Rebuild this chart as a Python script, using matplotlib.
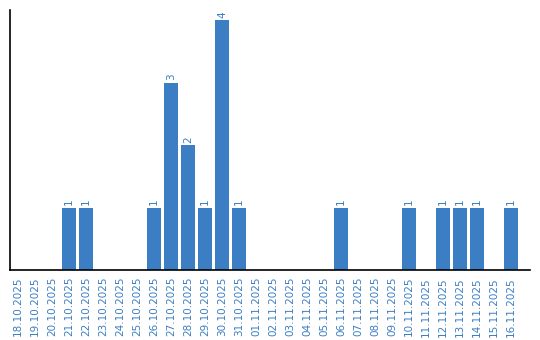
import matplotlib
matplotlib.use("Agg")
import matplotlib.pyplot as plt

dates = ["18.10.2025", "19.10.2025", "20.10.2025", "21.10.2025", "22.10.2025",
         "23.10.2025", "24.10.2025", "25.10.2025", "26.10.2025", "27.10.2025",
         "28.10.2025", "29.10.2025", "30.10.2025", "31.10.2025", "01.11.2025",
         "02.11.2025", "03.11.2025", "04.11.2025", "05.11.2025", "06.11.2025",
         "07.11.2025", "08.11.2025", "09.11.2025", "10.11.2025", "11.11.2025",
         "12.11.2025", "13.11.2025", "14.11.2025", "15.11.2025", "16.11.2025"]
counts = [0, 0, 0, 1, 1, 0, 0, 0, 1, 3, 2, 1, 4, 1, 0,
          0, 0, 0, 0, 1, 0, 0, 0, 1, 0, 1, 1, 1, 0, 1]

blue = "#3b7ec4"

fig = plt.figure(figsize=(5.4, 3.4), dpi=100)
ax = fig.add_axes([10 / 540, 70 / 340, 520 / 540, 260 / 340])

x = list(range(len(dates)))
ax.bar(x, counts, width=0.82, color=blue)

# value labels above non-empty bars
for xi, c in zip(x, counts):
    if c > 0:
        ax.text(xi, c + 0.04, str(c), rotation=90, ha="center", va="bottom",
                color=blue, fontsize=7.5)

ax.set_xlim(-0.47, 30.1)
ax.set_ylim(0, 4.16)
ax.set_xticks(x)
ax.set_xticklabels(dates, rotation=90, color=blue, fontsize=7.5)
ax.tick_params(axis="x", length=0, pad=5)
ax.set_yticks([])
ax.spines["top"].set_visible(False)
ax.spines["right"].set_visible(False)
ax.spines["left"].set_linewidth(1.2)
ax.spines["bottom"].set_linewidth(1.2)

fig.savefig("out.png", dpi=100)
